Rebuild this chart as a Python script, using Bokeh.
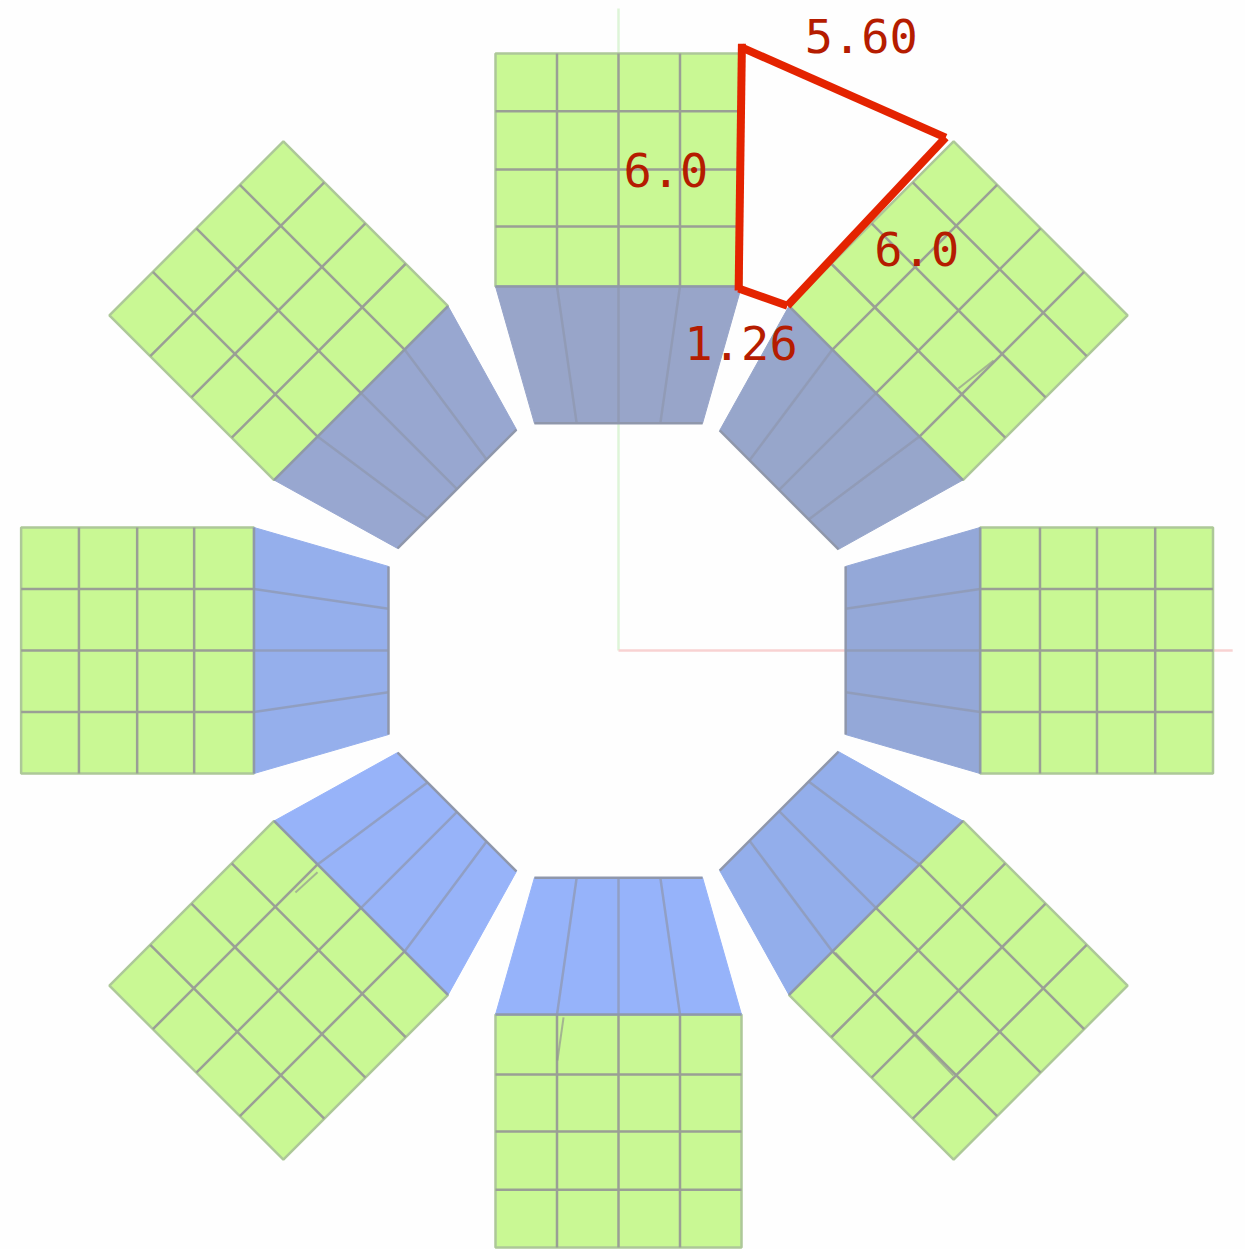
import math
from bokeh.plotting import figure
from bokeh.core.properties import value
from bokeh.embed import file_html
from bokeh.resources import INLINE

# panel geometry in model units (radial distance from the centre, offset across)
panel_angles = [0, 45, 90, 135, 180, 225, 270, 315]
trap_colors = ["#98a5c9", "#97a6cb", "#94a8d8", "#93aeeb", "#96b3fa", "#97b3f9", "#95afec", "#98a7d0"]
radial_green = [8.88, 10.34, 11.73, 13.15, 14.56]
across_green = [-3.0, -1.5, 0.0, 1.5, 3.0]
radial_inner = 5.54
across_inner = [-2.05, -1.02, 0.0, 1.02, 2.05]
# small per-panel radial deviations
green_shift = [0.0, 0.0, -0.06, 0.0, 0.0, 0.0, 0.01, 0.0]
inner_shift = [0.0, 0.0, 0.0, 0.0, 0.0, 0.03, 0.07, 0.03]

# faint stray strokes seen in the reference
stray_x = [[-1.34, -1.49], [8.29, 9.15], [-7.88, -7.34], [5.29, 8.17]]
stray_y = [[-8.95, -10.0], [6.39, 7.07], [-5.90, -5.41], [-7.37, -10.37]]

# red annotation
red_x0 = [3.01, 3.00, 7.98, 4.12]
red_y0 = [14.80, 14.71, 12.51, 8.41]
red_x1 = [2.93, 7.98, 4.12, 2.93]
red_y1 = [8.78, 12.51, 8.41, 8.83]
labels = ["5.60", "6.0", "6.0", "1.26"]
label_x = [4.54, 0.12, 6.24, 1.61]
label_y = [14.98, 11.73, 9.80, 7.51]

axis_x_end = 14.98
axis_y_end = 15.66

PX = 41.0
CX, CY = 618.0, 650.0
W, H = 1245, 1249

p = figure(width=W, height=H, output_backend="svg", toolbar_location=None,
           x_range=(-CX / PX, (W - CX) / PX), y_range=((CY - H) / PX, CY / PX),
           min_border=0, outline_line_color=None, background_fill_color="#fefefe",
           border_fill_color="#fefefe")
p.axis.visible = False
p.grid.visible = False


def rot(x, y, deg):
    t = math.radians(deg)
    return x * math.cos(t) + y * math.sin(t), -x * math.sin(t) + y * math.cos(t)


def poly(points, deg):
    r = [rot(x, y, deg) for x, y in points]
    return [a for a, _ in r], [b for _, b in r]


p.line([0, 0], [0, axis_y_end], line_color="#def5d8", line_width=2.5)
p.line([0, axis_x_end], [0, 0], line_color="#f8d2d2", line_width=2.5)

for ang, col, gs, ins in zip(panel_angles, trap_colors, green_shift, inner_shift):
    radii = [r + gs for r in radial_green]
    rin = radial_inner + ins
    r0, r1 = radii[0], radii[-1]
    a0, a1 = across_green[0], across_green[-1]
    xs, ys = poly([(a0, r0), (a1, r0), (a1, r1), (a0, r1)], ang)
    p.patch(xs, ys, fill_color="#c9f894", line_color="#adc898", line_width=2.5)
    gx, gy = [], []
    for r in radii[1:-1]:
        x, y = poly([(a0, r), (a1, r)], ang)
        gx.append(x); gy.append(y)
    for a in across_green[1:-1]:
        x, y = poly([(a, r0), (a, r1)], ang)
        gx.append(x); gy.append(y)
    p.multi_line(gx, gy, line_color="#9a9f95", line_width=2.5)

    i0, i1 = across_inner[0], across_inner[-1]
    xs, ys = poly([(a0, r0), (a1, r0), (i1, rin), (i0, rin)], ang)
    p.patch(xs, ys, fill_color=col, line_color=col, line_width=1)
    tx, ty = [], []
    for a, i in zip(across_green[1:-1], across_inner[1:-1]):
        x, y = poly([(a, r0), (i, rin)], ang)
        tx.append(x); ty.append(y)
    p.multi_line(tx, ty, line_color="#8e97ae", line_width=2.5, line_alpha=0.7)
    x, y = poly([(a0, r0), (a1, r0)], ang)
    p.line(x, y, line_color="#8f99a8", line_width=2.5)
    x, y = poly([(i0, rin), (i1, rin)], ang)
    p.line(x, y, line_color="#8f97ab", line_width=2.5)

p.multi_line(stray_x, stray_y, line_color="#93988f", line_width=2, line_alpha=0.7)

p.segment(red_x0, red_y0, red_x1, red_y1, line_color="#e42300", line_width=8, line_cap="butt")

p.text(label_x, label_y, text=labels, text_font=value("DejaVu Sans Mono"),
       text_font_size="47px", text_color="#b51c00", text_baseline="alphabetic", text_align="left")

open("out.html", "w").write(file_html(p, INLINE))
